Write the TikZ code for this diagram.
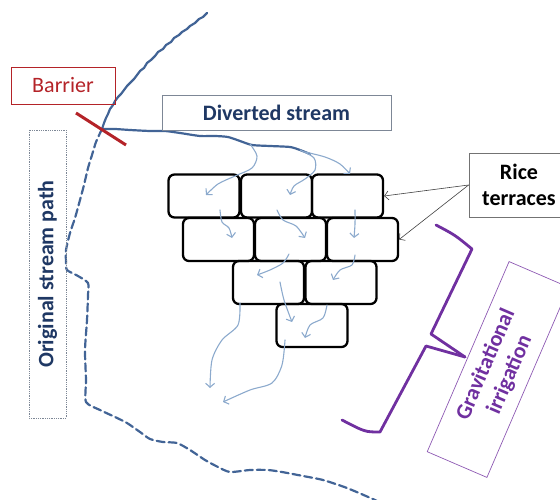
\documentclass[tikz,border=0pt]{standalone}
\usepackage{fontspec}
\setmainfont{Carlito}
\usetikzlibrary{arrows.meta}
\definecolor{streamblue}{RGB}{66,100,150}
\definecolor{flowblue}{RGB}{140,170,205}
\definecolor{navytext}{RGB}{31,56,100}
\definecolor{barrierred}{RGB}{180,35,40}
\definecolor{purp}{RGB}{112,48,160}
\definecolor{boxgray}{RGB}{125,135,150}
\begin{document}
\begin{tikzpicture}[x=1pt,y=-1pt,
  terrace/.style={draw,line width=2.3pt,rounded corners=6pt,minimum width=71pt,minimum height=43pt,inner sep=0pt},
  flow/.style={flowblue,line width=1.1pt,line cap=round,-{Straight Barb[length=4pt,width=9pt]}},
  stream/.style={streamblue,line width=2.2pt,line join=round,line cap=round},
  lbl/.style={font=\fontsize{22}{26}\selectfont,align=center,inner sep=0pt},
  pointer/.style={draw=black!75,line width=0.6pt,-{Straight Barb[length=4pt,width=9pt]}}
]
\useasboundingbox (0,0) rectangle (560,500);

% original (dashed) stream path
\draw[stream,dash pattern=on 8pt off 4pt] plot[smooth,tension=0.4] coordinates {
 (102,129) (96,142) (92,155) (88,168) (84,185) (80,200) (75,218) (70,233) (66,250) (66,262)
 (67,270) (78,276) (88,283) (88,295) (87,320) (85,350) (86,380) (86,402) (100,410) (115,417)
 (127,423) (140,432) (150,439) (163,442) (177,443) (190,450) (205,460) (218,467) (230,472)
 (250,470) (268,470) (282,472) (303,476) (323,480) (347,488) (375,500) (382,504)};

% upper natural stream
\draw[stream] plot coordinates {
 (207,13) (203,17) (199,19) (195,23) (190,26) (187,29) (182,32) (179,35) (174,38) (171,42)
 (166,45) (163,49) (158,52) (155,56) (151,60) (147,63) (144,68) (140,71) (137,75) (134,79)
 (130,83) (127,86) (124,90) (121,94) (118,97) (115,101) (113,105) (110,109) (108,114)
 (106,118) (104,123) (102,129)};

% diverted stream
\draw[stream] plot[smooth,tension=0.4] coordinates {
 (102,129) (115,129) (130,130) (150,131) (165,131) (180,133) (200,136) (215,136) (228,137)
 (240,141) (252,145) (270,146) (290,147) (300,150) (310,154)};

% barrier line
\draw[barrierred,line width=3pt] (76,113) -- (126,145);

% terraces
\node[terrace] (t11) at (204,196) {};
\node[terrace] (t12) at (276.5,196) {};
\node[terrace] (t13) at (347.5,196) {};
\node[terrace] (t21) at (218.5,239.5) {};
\node[terrace] (t22) at (290.5,239.5) {};
\node[terrace] (t23) at (362.5,239.5) {};
\node[terrace] (t31) at (268.5,282.5) {};
\node[terrace] (t32) at (341,282.5) {};
\node[terrace] (t41) at (312,325.5) {};

% water flows
\draw[flow] plot[smooth] coordinates {(250,144) (257,156) (252,168) (235,176) (218,184) (206,195)};
\draw[flow] plot[smooth] coordinates {(300,150) (314,158) (315,170) (305,179) (294,186) (290,195)};
\draw[flow] plot[smooth] coordinates {(305,152) (325,157) (340,164) (350,174)};
\draw[flow] plot[smooth] coordinates {(220,210) (222,222) (229,228) (232,238)};
\draw[flow] plot[smooth] coordinates {(277,210) (283,220) (296,226) (305,238)};
\draw[flow] plot[smooth] coordinates {(355,210) (355,224) (354,238)};
\draw[flow] plot[smooth] coordinates {(289,254) (283,263) (270,270) (257,275)};
\draw[flow] plot[smooth] coordinates {(355,255) (352,265) (340,270) (333,280)};
\draw[flow] plot[smooth] coordinates {(280,282) (284,300) (292,322)};
\draw[flow] plot[smooth] coordinates {(327,305) (323,318) (310,325) (305,338)};
\draw[flow] plot[smooth] coordinates {(240,303) (238,325) (222,340) (212,360) (210,388)};
\draw[flow] plot[smooth] coordinates {(285,340) (282,365) (272,383) (250,390) (223,402)};

% labels
\node[lbl,draw=barrierred,line width=0.7pt,text=barrierred,minimum width=104pt,minimum height=37pt] (barrier) at (63,85.5) {Barrier};
\node[lbl,draw=boxgray,line width=0.8pt,fill=white,text=navytext,font=\fontsize{22}{26}\selectfont\bfseries,minimum width=229pt,minimum height=35pt] (diverted) at (276.5,112.5) {Diverted stream};
\node[lbl,draw=boxgray,line width=0.8pt,densely dotted,text=navytext,font=\fontsize{22}{26}\selectfont\bfseries,rotate=90,minimum width=288pt,minimum height=37pt] (orig) at (47.5,274) {Original stream path};
\node[lbl,draw=black!55,line width=0.8pt,font=\fontsize{22}{26}\selectfont\bfseries,minimum width=100pt,minimum height=64pt] (rice) at (519,185) {Rice\\terraces};
\node[lbl,draw=purp!80,line width=0.7pt,text=purp,font=\fontsize{22}{26}\selectfont\bfseries,rotate=66.7,minimum width=207pt,minimum height=65pt] (grav) at (498,369.5) {Gravitational\\irrigation};

% pointers from rice label
\draw[pointer] (rice.west) -- (t13.east);
\draw[pointer] (rice.west) -- (t23.east);

% brace
\draw[purp,line width=2.8pt,line join=round,line cap=round] (436,225) .. controls (455,235) .. (472,249) -- (431,334) -- (465,357);
\draw[purp,line width=2.8pt,line join=round,line cap=round] (465,357) -- (426,346) -- (380,432) .. controls (365,432) .. (342,420);
\end{tikzpicture}
\end{document}
